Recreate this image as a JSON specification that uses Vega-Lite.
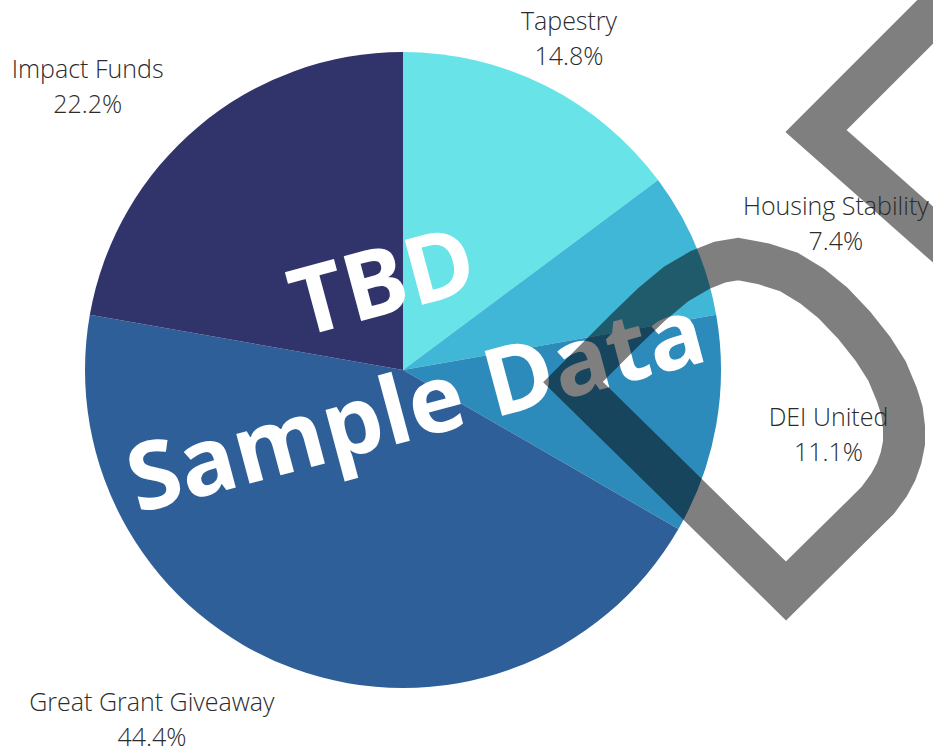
{
  "$schema": "https://vega.github.io/schema/vega-lite/v6.json",
  "width": 806,
  "height": 740,
  "autosize": {"type": "none"},
  "padding": {"left": 0, "top": 0, "right": 127, "bottom": 11},
  "background": "white",
  "config": {"view": {"stroke": null}},
  "datasets": {
    "shares": [
      {"category": "Tapestry", "value": 4, "pct": "14.8%", "rank": 1},
      {"category": "Housing Stability", "value": 2, "pct": "7.4%", "rank": 2},
      {"category": "DEI United", "value": 3, "pct": "11.1%", "rank": 3},
      {"category": "Great Grant Giveaway", "value": 12, "pct": "44.4%", "rank": 4},
      {"category": "Impact Funds", "value": 6, "pct": "22.2%", "rank": 5}
    ],
    "logo": [
      {"part": "chevron", "seq": 1, "u": 990, "v": -43},
      {"part": "chevron", "seq": 2, "u": 816, "v": 131},
      {"part": "chevron", "seq": 3, "u": 990, "v": 285},
      {"part": "drop", "seq": 1, "u": 573, "v": 382},
      {"part": "drop", "seq": 2, "u": 600, "v": 355},
      {"part": "drop", "seq": 3, "u": 627, "v": 328},
      {"part": "drop", "seq": 4, "u": 652, "v": 304},
      {"part": "drop", "seq": 5, "u": 676, "v": 284},
      {"part": "drop", "seq": 6, "u": 700, "v": 270},
      {"part": "drop", "seq": 7, "u": 720, "v": 262},
      {"part": "drop", "seq": 8, "u": 738, "v": 259},
      {"part": "drop", "seq": 9, "u": 764, "v": 264},
      {"part": "drop", "seq": 10, "u": 789, "v": 272},
      {"part": "drop", "seq": 11, "u": 812, "v": 286},
      {"part": "drop", "seq": 12, "u": 833, "v": 303},
      {"part": "drop", "seq": 13, "u": 854, "v": 325},
      {"part": "drop", "seq": 14, "u": 873, "v": 349},
      {"part": "drop", "seq": 15, "u": 887, "v": 371},
      {"part": "drop", "seq": 16, "u": 897, "v": 395},
      {"part": "drop", "seq": 17, "u": 902, "v": 411},
      {"part": "drop", "seq": 18, "u": 904, "v": 427},
      {"part": "drop", "seq": 19, "u": 904, "v": 443},
      {"part": "drop", "seq": 20, "u": 901, "v": 458},
      {"part": "drop", "seq": 21, "u": 896, "v": 472},
      {"part": "drop", "seq": 22, "u": 889, "v": 485},
      {"part": "drop", "seq": 23, "u": 878, "v": 500},
      {"part": "drop", "seq": 24, "u": 865, "v": 513},
      {"part": "drop", "seq": 25, "u": 786, "v": 591},
      {"part": "drop", "seq": 26, "u": 573, "v": 382},
      {"part": "drop", "seq": 27, "u": 600, "v": 355}
    ]
  },
  "layer": [
    {
      "data": {"name": "shares"},
      "mark": {"type": "arc", "radius": 318},
      "encoding": {
        "theta": {"field": "value", "type": "quantitative", "stack": true},
        "order": {"field": "rank", "type": "quantitative"},
        "color": {
          "field": "category",
          "type": "nominal",
          "scale": {
            "domain": ["Tapestry", "Housing Stability", "DEI United", "Great Grant Giveaway", "Impact Funds"],
            "range": ["#68E3E8", "#40B7D7", "#2D8BBB", "#2E5F98", "#30346B"]
          },
          "legend": null
        }
      }
    },
    {
      "data": {"values": [{"note": "watermark"}]},
      "mark": {
        "type": "text",
        "text": ["TBD", "Sample Data"],
        "angle": 345,
        "font": "Open Sans",
        "fontSize": 94,
        "fontWeight": "bold",
        "color": "white",
        "lineHeight": 128,
        "align": "center",
        "baseline": "middle",
        "dx": 3,
        "dy": -86
      },
      "encoding": {}
    },
    {
      "data": {"name": "logo"},
      "mark": {"type": "line", "color": "black", "opacity": 0.5, "strokeWidth": 42, "strokeJoin": "miter", "strokeCap": "butt", "clip": false},
      "encoding": {
        "x": {"field": "u", "type": "quantitative", "scale": {"domain": [0, 806], "nice": false, "zero": false}, "axis": null},
        "y": {"field": "v", "type": "quantitative", "scale": {"domain": [0, 740], "nice": false, "zero": false, "reverse": true}, "axis": null},
        "detail": {"field": "part", "type": "nominal"},
        "order": {"field": "seq", "type": "quantitative"}
      }
    },
    {
      "data": {"name": "shares"},
      "transform": [{"calculate": "[datum.category, datum.pct]", "as": "label"}],
      "mark": {
        "type": "text",
        "radius": 430,
        "font": "Open Sans",
        "fontSize": 25,
        "fontWeight": 300,
        "color": "#2b2b2b",
        "lineHeight": 35,
        "align": "center",
        "baseline": "middle",
        "dx": {"expr": "datum.category === 'Tapestry' ? -27 : datum.category === 'Housing Stability' ? 38 : datum.category === 'DEI United' ? 2 : datum.category === 'Great Grant Giveaway' ? -104 : -39"},
        "dy": {"expr": "datum.category === 'Tapestry' ? 36 : datum.category === 'Housing Stability' ? 7 : datum.category === 'DEI United' ? -27 : datum.category === 'Great Grant Giveaway' ? -71 : 29"}
      },
      "encoding": {
        "theta": {"field": "value", "type": "quantitative", "stack": true},
        "order": {"field": "rank", "type": "quantitative"},
        "text": {"field": "label"}
      }
    }
  ]
}
